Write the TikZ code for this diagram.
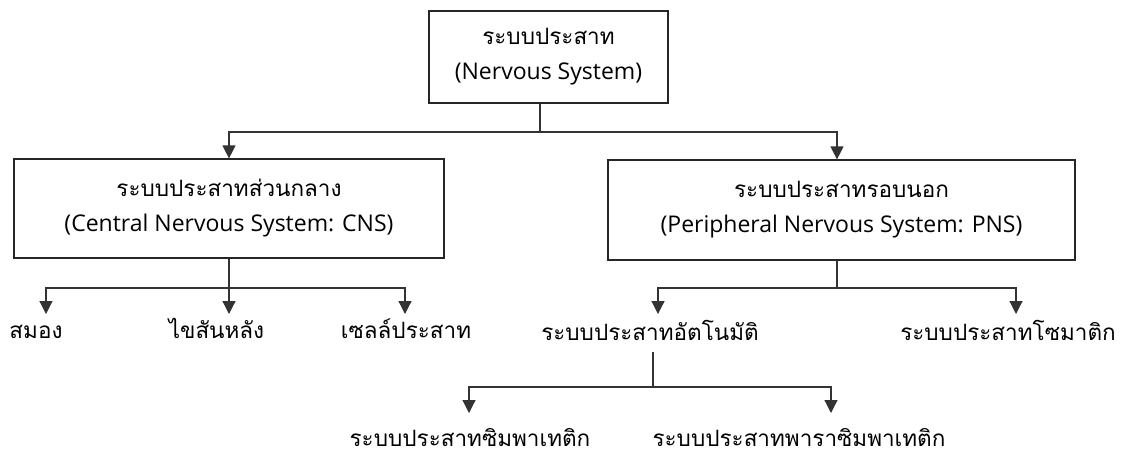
\documentclass[tikz,border=0pt]{standalone}
\usepackage{fontspec}
\setmainfont{Open Sans}
\newfontfamily\thaifont[Script=Thai]{Loma}
\usetikzlibrary{arrows.meta,positioning}

\newcommand*{\rowA}{132}
\newcommand*{\rowB}{288}
\newcommand*{\rowC}{387}
\newcommand*{\tipB}{314}
\newcommand*{\tipC}{413}
\newcommand*{\thaitext}[1]{{\thaifont\fontsize{22.5}{35}\selectfont #1}}

\begin{document}
\begin{tikzpicture}
[
	x=1pt,y=-1pt,
	box/.style={draw=black!85,line width=1.2pt,align=center,inner sep=0pt,font=\fontsize{23}{35}\selectfont},
	leaf/.style={inner sep=0pt,text height=18pt,text depth=5pt,font=\thaifont\fontsize{22.5}{28}\selectfont},
	link/.style={line width=1.2pt,black!80},
	arr/.style={link,-{Triangle[width=13pt,length=13pt]}}
]

	\useasboundingbox (0,0) rectangle (1122,456);

	% boxes
	\node[box,minimum width=239pt,minimum height=92pt] (ns) at (548.5,57) {\thaitext{ระบบประสาท}\\(Nervous System)};
	\node[box,minimum width=430pt,minimum height=99pt] (cns) at (229,208.5) {\thaitext{ระบบประสาทส่วนกลาง}\\(Central Nervous System: CNS)};
	\node[box,minimum width=467pt,minimum height=100pt] (pns) at (841.5,210) {\thaitext{ระบบประสาทรอบนอก}\\(Peripheral Nervous System: PNS)};

	% leaves
	\node[leaf] (brain) at (36,332) {สมอง};
	\node[leaf] (spine) at (216.5,332) {ไขสันหลัง};
	\node[leaf] (neuron) at (406,332) {เซลล์ประสาท};
	\node[leaf] (auto) at (650,334) {ระบบประสาทอัตโนมัติ};
	\node[leaf] (soma) at (1008,334) {ระบบประสาทโซมาติก};
	\node[leaf] (symp) at (470,440) {ระบบประสาทซิมพาเทติก};
	\node[leaf] (para) at (799,440) {ระบบประสาทพาราซิมพาเทติก};

	% arrow tips
	\coordinate (tbrain) at (46,\tipB);
	\coordinate (tspine) at (229,\tipB);
	\coordinate (tneuron) at (405,\tipB);
	\coordinate (tauto) at (658,\tipB);
	\coordinate (tsoma) at (1016,\tipB);
	\coordinate (tsymp) at (469,\tipC);
	\coordinate (tpara) at (831,\tipC);

	% top split
	\coordinate (nsj) at (540,\rowA);
	\draw[link] (ns.south -| nsj) -- (nsj);
	\draw[arr] (nsj) -| (cns.north);
	\draw[arr] (nsj) -| ([xshift=-4.5pt]pns.north);

	% central branches
	\coordinate (cnsj) at (229,\rowB);
	\draw[link] (cns.south) -- (cnsj);
	\draw[arr] (cnsj) -| (tbrain);
	\draw[arr] (cnsj) -- (tspine);
	\draw[arr] (cnsj) -| (tneuron);

	% peripheral branches
	\coordinate (pnsj) at (837,\rowB);
	\draw[link] ([xshift=-4.5pt]pns.south) -- (pnsj);
	\draw[arr] (pnsj) -| (tauto);
	\draw[arr] (pnsj) -| (tsoma);

	% autonomic branches
	\coordinate (autoj) at (653,\rowC);
	\draw[link] ([yshift=-6pt]auto.south -| autoj) -- (autoj);
	\draw[arr] (autoj) -| (tsymp);
	\draw[arr] (autoj) -| (tpara);

\end{tikzpicture}
\end{document}
